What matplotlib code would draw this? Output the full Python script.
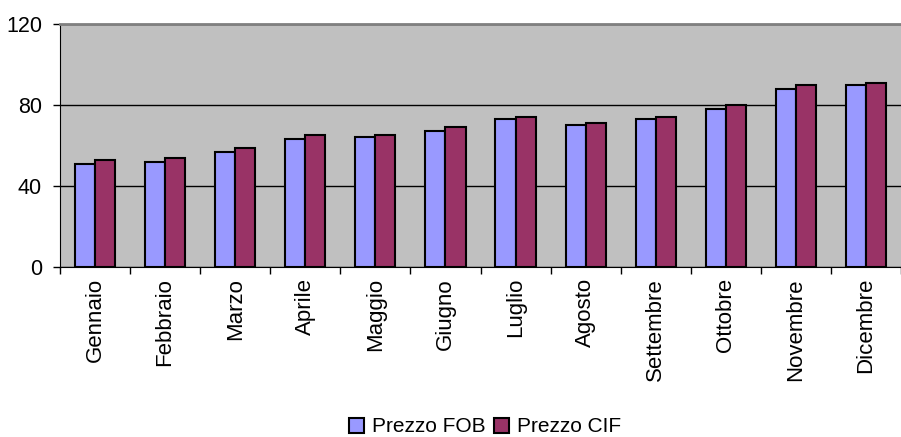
import matplotlib
matplotlib.use("Agg")
import matplotlib.pyplot as plt
import numpy as np

mesi = ["Gennaio", "Febbraio", "Marzo", "Aprile", "Maggio", "Giugno",
        "Luglio", "Agosto", "Settembre", "Ottobre", "Novembre", "Dicembre"]
prezzo_fob = [51, 52, 57, 63, 64, 67, 73, 70, 73, 78, 88, 90]
prezzo_cif = [53, 54, 59, 65, 65, 69, 74, 71, 74, 80, 90, 91]
y_ticks = [0, 40, 80, 120]

plt.rcParams['font.family'] = ['Liberation Sans', 'DejaVu Sans']

fig = plt.figure(figsize=(9.01, 4.37), dpi=100)
ax = fig.add_axes([60/901, 170/437, 841/901, 243/437])
ax.set_facecolor('#C0C0C0')

x = np.arange(len(mesi))
w = 0.286
ax.bar(x - w/2, prezzo_fob, w, color='#9999FF', edgecolor='black', linewidth=1.5,
       label='Prezzo FOB', zorder=3)
ax.bar(x + w/2, prezzo_cif, w, color='#993366', edgecolor='black', linewidth=1.5,
       label='Prezzo CIF', zorder=3)

ax.set_xlim(-0.5, len(mesi) - 0.5)
ax.set_ylim(0, 120)
ax.set_yticks(y_ticks)
ax.yaxis.grid(True, color='black', linewidth=1, zorder=1)
ax.tick_params(axis='y', labelsize=15.5, length=5, width=1, direction='out', pad=8)

ax.set_xticks(x)
ax.set_xticklabels(mesi, rotation=90, fontsize=16)
ax.set_xticks(np.arange(len(mesi) + 1) - 0.5, minor=True)
ax.tick_params(axis='x', which='major', length=0, pad=8)
ax.tick_params(axis='x', which='minor', length=5, width=1, direction='out')

ax.spines['right'].set_visible(False)
ax.spines['top'].set_color('#808080')
ax.spines['top'].set_linewidth(2)
ax.spines['left'].set_color('black')
ax.spines['bottom'].set_color('black')

fig.legend(loc='center', bbox_to_anchor=(485/901, 1 - 427/437), ncol=2, frameon=False,
           fontsize=15, handlelength=0.7, handleheight=0.7, handletextpad=0.4,
           columnspacing=0.4)

fig.savefig('out.png', dpi=100)
